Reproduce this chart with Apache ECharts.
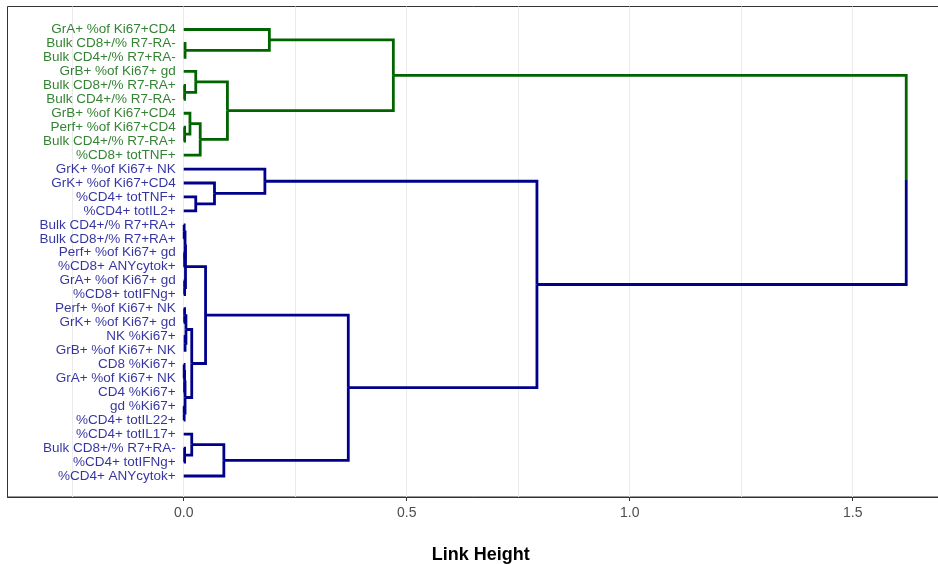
<!DOCTYPE html>
<html>
<head>
<meta charset="utf-8">
<script src="https://cdn.jsdelivr.net/npm/echarts@6/dist/echarts.min.js"></script>
<style>
html,body{margin:0;padding:0;background:#fff;}
#chart{width:938px;height:564px;}
</style>
</head>
<body>
<div id="chart"></div>
<script>
// Leaf labels, top to bottom
const leafLabels = [
  "GrA+ %of Ki67+CD4", "Bulk CD8+/% R7-RA-", "Bulk CD4+/% R7+RA-", "GrB+ %of Ki67+ gd",
  "Bulk CD8+/% R7-RA+", "Bulk CD4+/% R7-RA-", "GrB+ %of Ki67+CD4", "Perf+ %of Ki67+CD4",
  "Bulk CD4+/% R7-RA+", "%CD8+ totTNF+", "GrK+ %of Ki67+ NK", "GrK+ %of Ki67+CD4",
  "%CD4+ totTNF+", "%CD4+ totIL2+", "Bulk CD4+/% R7+RA+", "Bulk CD8+/% R7+RA+",
  "Perf+ %of Ki67+ gd", "%CD8+ ANYcytok+", "GrA+ %of Ki67+ gd", "%CD8+ totIFNg+",
  "Perf+ %of Ki67+ NK", "GrK+ %of Ki67+ gd", "NK %Ki67+", "GrB+ %of Ki67+ NK",
  "CD8 %Ki67+", "GrA+ %of Ki67+ NK", "CD4 %Ki67+", "gd %Ki67+",
  "%CD4+ totIL22+", "%CD4+ totIL17+", "Bulk CD8+/% R7+RA-", "%CD4+ totIFNg+",
  "%CD4+ ANYcytok+"
];
// cluster of each leaf (0 = green, 1 = blue)
const leafCluster = [
  0,0,0,0,0,0,0,0,0,0,
  1,1,1,1,1,1,1,1,1,1,
  1,1,1,1,1,1,1,1,1,1,
  1,1,1
];
// hclust-style merges: negative = leaf (1-based), positive = earlier merge (1-based)
const mergeA = [-2, -1, -5, -4, -8, -7, 6, 4, 2, -13, -12, -11, -15, -17, 13, -19, 15, -21, -23, 18, -25, 21, -28, 22, 20, 17, -31, -30, 28, 26, 12, 9];
const mergeB = [-3, 1, -6, 3, -9, 5, -10, 7, 8, -14, 10, 11, -16, -18, 14, -20, 16, -22, -24, 19, -26, -27, -29, 23, 24, 25, -32, 27, -33, 29, 30, 31];
const mergeHeight = [0.003, 0.192, 0.002, 0.027, 0.002, 0.014, 0.037, 0.098, 0.470,
  0.027, 0.069, 0.182,
  0.001, 0.002, 0.003, 0.002, 0.004,
  0.002, 0.003, 0.005,
  0.001, 0.002, 0.001, 0.003, 0.018, 0.049,
  0.002, 0.018, 0.090, 0.369, 0.792, 1.620];
const tickValues = [0, 0.5, 1.0, 1.5];
const gridValues = [-0.25, 0, 0.25, 0.5, 0.75, 1.0, 1.25, 1.5];
const clusterColors = ["#006400", "#00008B"];

const Y_MIN = -0.649, Y_MAX = 34.505;

// compute node positions
const nodeY = [], nodeH = [], nodeCl = [];
function info(ref) {
  if (ref < 0) { const k = -ref; return { y: k, h: 0, c: leafCluster[k - 1] }; }
  return { y: nodeY[ref - 1], h: nodeH[ref - 1], c: nodeCl[ref - 1] };
}
const edges = [];
for (let i = 0; i < mergeA.length; i++) {
  const a = info(mergeA[i]), b = info(mergeB[i]);
  const y = (a.y + b.y) / 2, h = mergeHeight[i];
  nodeY.push(y); nodeH.push(h); nodeCl.push(a.c === b.c ? a.c : -1);
  [a, b].forEach(ch => {
    edges.push({
      coords: [[h, y], [h, ch.y], [ch.h, ch.y]],
      lineStyle: { color: clusterColors[ch.c] }
    });
  });
}

const chart = echarts.init(document.getElementById('chart'), null, { renderer: 'canvas' });
const FONT = "'Liberation Sans', Arial, Helvetica, sans-serif";
chart.setOption({
  animation: false,
  backgroundColor: '#ffffff',
  grid: { left: 7.5, top: 6.5, width: 946.5, height: 490.5, show: true, borderColor: '#333333', borderWidth: 1, backgroundColor: 'transparent', containLabel: false, outerBoundsMode: 'none' },
  xAxis: {
    type: 'value', min: -0.3951, max: 1.7271,
    splitLine: { show: false },
    axisLine: { show: true, onZero: false, lineStyle: { color: '#333333', width: 1 } },
    axisTick: { show: true, length: 4, customValues: tickValues, lineStyle: { color: '#333333' } },
    axisLabel: { customValues: tickValues, formatter: v => Number(v).toFixed(1), color: '#4D4D4D', fontSize: 14, fontFamily: FONT, margin: 9 },
    name: 'Link Height', nameLocation: 'middle', nameGap: 49,
    nameTextStyle: { fontSize: 18, fontWeight: 'bold', color: '#000000', fontFamily: FONT }
  },
  yAxis: {
    type: 'value', inverse: true, min: Y_MIN, max: Y_MAX, show: false,
    splitLine: { show: false }
  },
  series: [
    {
      type: 'lines', coordinateSystem: 'cartesian2d', silent: true, z: 1,
      lineStyle: { color: '#EBEBEB', width: 1, opacity: 1 },
      data: gridValues.map(v => ({ coords: [[v, Y_MIN], [v, Y_MAX]] }))
    },
    {
      type: 'lines', coordinateSystem: 'cartesian2d', polyline: true, silent: true,
      lineStyle: { width: 2.8, opacity: 1, join: 'miter', cap: 'butt' },
      data: edges, z: 3
    },
    {
      type: 'scatter', symbolSize: 0, silent: true, z: 4,
      data: leafLabels.map((t, i) => ({
        value: [0, i + 1],
        label: { color: clusterColors[leafCluster[i]] }
      })),
      label: {
        show: true, position: 'left', distance: 8,
        formatter: p => leafLabels[p.dataIndex],
        fontSize: 13.5, fontFamily: FONT
      }
    }
  ]
});
</script>
</body>
</html>
